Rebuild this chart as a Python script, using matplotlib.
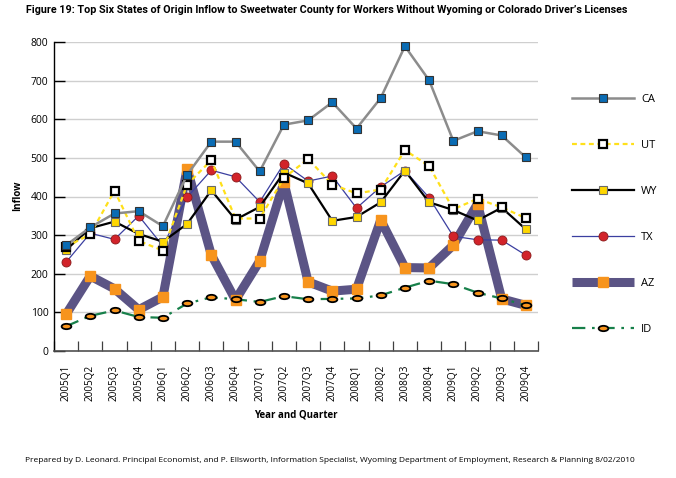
import matplotlib
matplotlib.use("Agg")
import matplotlib.pyplot as plt
from matplotlib.path import Path
from matplotlib.transforms import Affine2D
import numpy as np

quarters = ["2005Q1","2005Q2","2005Q3","2005Q4","2006Q1","2006Q2","2006Q3","2006Q4",
            "2007Q1","2007Q2","2007Q3","2007Q4","2008Q1","2008Q2","2008Q3","2008Q4",
            "2009Q1","2009Q2","2009Q3","2009Q4"]
CA = [274, 320, 356, 362, 323, 456, 542, 542, 465, 586, 597, 644, 576, 655, 789, 701, 544, 569, 558, 501]
UT = [270, 302, 415, 285, 260, 431, 494, 343, 343, 448, 497, 431, 408, 418, 520, 479, 367, 394, 372, 344]
WY = [262, 318, 335, 303, 283, 329, 416, 340, 373, 462, 434, 337, 347, 385, 467, 385, 365, 338, 371, 315]
TX = [230, 305, 289, 350, 272, 398, 468, 451, 386, 485, 440, 453, 370, 425, 467, 397, 297, 288, 287, 248]
AZ = [95, 194, 161, 107, 140, 472, 249, 132, 233, 437, 179, 155, 160, 339, 216, 215, 274, 381, 135, 118]
ID = [64, 91, 105, 88, 86, 123, 139, 134, 127, 142, 134, 135, 136, 144, 164, 182, 173, 151, 136, 118]
yticks = [0, 100, 200, 300, 400, 500, 600, 700, 800]

FONT = ['Open Sans', 'DejaVu Sans']
plt.rcParams['font.family'] = FONT

fig = plt.figure(figsize=(6.76, 4.78), dpi=100)
ax = fig.add_axes([54/676, 1-351/478, 484/676, 309/478])

x = np.arange(len(quarters))
ellipse = Path.unit_circle().transformed(Affine2D().scale(1.0, 0.55))

ax.plot(x, AZ, color='#5b5485', lw=6.5, marker='s', ms=6.5, mfc='#f7941d', mec='#f7941d',
        solid_joinstyle='round', solid_capstyle='butt', zorder=2, label='AZ')
ax.plot(x, ID, color='#17804a', lw=1.6, ls=(0, (6, 3, 1.2, 3)), marker=ellipse, ms=7,
        mfc='#f7941d', mec='black', mew=1.3, zorder=3, label='ID')
ax.plot(x, TX, color='#3b3fa0', lw=0.9, marker='o', ms=6.5, mfc='#d2232a', mec='#8a1a1a',
        mew=0.6, zorder=4, label='TX')
ax.plot(x, WY, color='black', lw=1.6, marker='s', ms=6, mfc='#ffd700', mec='#6a6a6a',
        mew=0.8, zorder=5, label='WY')
ax.plot(x, UT, color='#ffe01a', lw=1.6, ls=(0, (2.2, 1.6)), marker='s', ms=6, mfc='white',
        mec='black', mew=1.6, zorder=6, label='UT')
ax.plot(x, CA, color='#8c8c8c', lw=1.8, marker='s', ms=6, mfc='#0a6cb4', mec='#333333',
        mew=0.8, zorder=7, label='CA')

ax.set_xlim(-0.5, len(quarters)-0.5)
ax.set_ylim(0, 800)
ax.set_yticks(yticks)
ax.set_yticklabels([str(v) for v in yticks], fontsize=7.5)
ax.set_xticks(x)
ax.set_xticklabels(quarters, rotation=90, fontsize=7.2)
ax.set_xticks(np.arange(-0.5, len(quarters), 1.0), minor=True)
ax.tick_params(axis='x', which='major', length=0, pad=10)
ax.tick_params(axis='x', which='minor', direction='in', length=7, width=0.9, color='#404040')
ax.tick_params(axis='y', direction='in', length=8, width=1.0, color='black', pad=4)
for v in yticks[1:]:
    ax.axhline(v, color='#cfcfcf', lw=1.0, zorder=1)
for s in ['top', 'right']:
    ax.spines[s].set_visible(False)
ax.spines['left'].set_color('black')
ax.spines['left'].set_linewidth(1.0)
ax.spines['bottom'].set_color('#505050')
ax.spines['bottom'].set_linewidth(1.2)

handles, labels = ax.get_legend_handles_labels()
order = ['CA', 'UT', 'WY', 'TX', 'AZ', 'ID']
hmap = dict(zip(labels, handles))
leg = fig.legend([hmap[k] for k in order], order, loc='upper left',
                 bbox_to_anchor=(562/676, 1-84/478), frameon=False, fontsize=8,
                 handlelength=5.6, labelspacing=3.15, handletextpad=0.6, numpoints=1)

title = fig.text(0.484, 1-10/478, "Figure 19: Top Six States of Origin Inflow to Sweetwater County for Workers Without Wyoming or Colorado Driver\u2019s Licenses",
                 ha='center', va='center', fontsize=8.3, fontweight='bold',
                 family=['Roboto', 'DejaVu Sans'])
fig.text(296/676, 1-415/478, "Year and Quarter", ha='center', va='center', fontsize=7, fontweight='bold')
fig.text(18/676, 1-196/478, "Inflow", ha='center', va='center', rotation=90, fontsize=7, fontweight='bold')
foot = fig.text(0.488, 1-461/478, "Prepared by D. Leonard. Principal Economist, and P. Ellsworth, Information Specialist, Wyoming Department of Employment, Research & Planning 8/02/2010",
                ha='center', va='center', fontsize=6.1)

# fit text widths to the reference widths
renderer = fig.canvas.get_renderer()
for t, target in [(title, 595), (foot, 612)]:
    for _ in range(3):
        w = t.get_window_extent(renderer=renderer).width
        t.set_fontsize(t.get_fontsize() * target / w)

fig.savefig('out.png', dpi=100)
